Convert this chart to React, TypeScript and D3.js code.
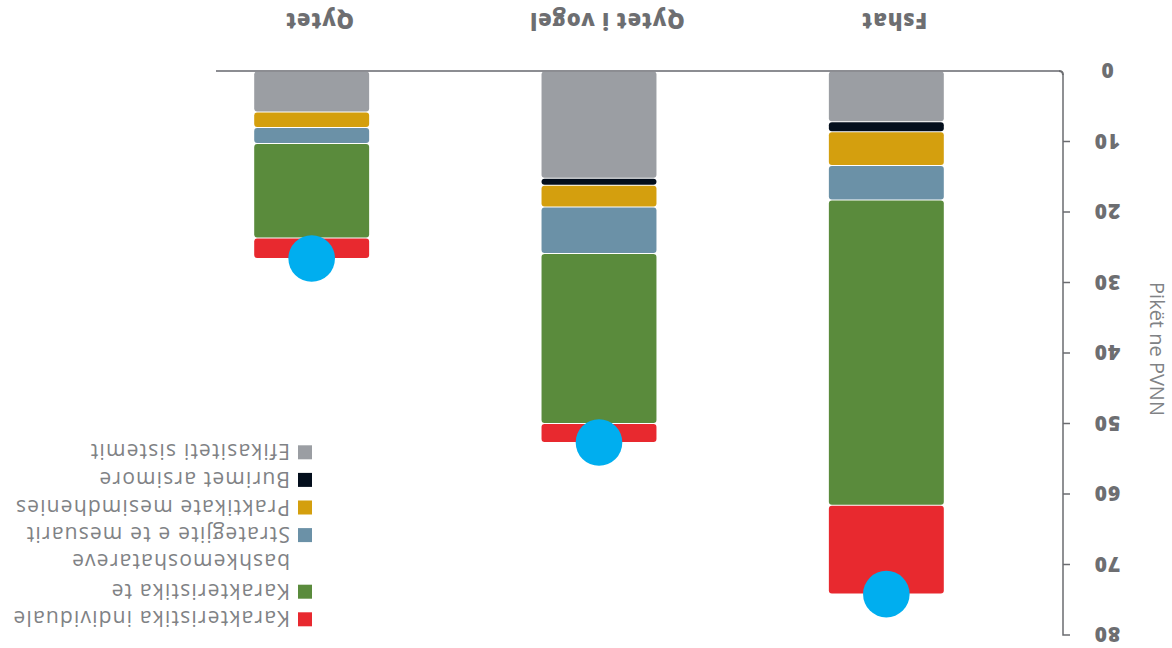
import React from 'react';
import * as d3 from 'd3';

// categories, left to right in the unrotated chart
const categories = ['Fshat', 'Qytet i vogel', 'Qytet'];

// stacked series, bottom to top
const seriesKeys = ['efikasiteti', 'burimet', 'praktikat', 'strategjite', 'bashkemoshataret', 'individuale'];
const seriesLabels = [
  ['Efikasiteti sistemit'],
  ['Burimet arsimore'],
  ['Praktikate mesimdhenies'],
  ['Strategjite e te mesuarit'],
  ['Karakteristika te', 'bashkemoshatareve'],
  ['Karakteristika individuale'],
];
const seriesColors = ['#9b9ea3', '#030e1c', '#d49f0e', '#6b91a7', '#5a8b3c', '#e8292f'];

const efikasiteti = [7.2, 15.2, 5.8];
const burimet = [1.4, 1.0, 0];
const praktikat = [4.8, 3.1, 2.2];
const strategjite = [4.9, 6.6, 2.3];
const bashkemoshataret = [43.3, 24.1, 13.4];
const individuale = [12.6, 2.7, 2.9];

const yTicks = [0, 10, 20, 30, 40, 50, 60, 70, 80];
const yTitle = 'Pikët ne PVNN';

const W = 1172;
const H = 648;

const App: React.FC = () => {
  const rows = categories.map((c, i) => ({
    cat: c,
    efikasiteti: efikasiteti[i],
    burimet: burimet[i],
    praktikat: praktikat[i],
    strategjite: strategjite[i],
    bashkemoshataret: bashkemoshataret[i],
    individuale: individuale[i],
  }));
  const stacked = d3.stack<any>().keys(seriesKeys)(rows);
  const totals = rows.map((r) => d3.sum(seriesKeys, (k) => r[k]));

  const y = d3.scaleLinear().domain([0, 80]).range([577, 13]);
  const x = d3.scaleBand().domain(categories).range([142, 1004]).paddingInner(0.6).paddingOuter(0.3);

  const axisX = 109;
  const baseEnd = 956;
  const axisColor = '#6b6c70';
  const textColor = '#6d6e71';
  const font = "'Open Sans', sans-serif";

  const axisPath =
    `M${axisX},${y(0) - 4} V${y(80)} H${axisX - 7}` +
    yTicks.filter((t) => t > 0 && t < 80).map((t) => ` M${axisX},${y(t)} H${axisX - 7}`).join('');

  // legend: red on top down to gray
  const legendOrder = d3.range(seriesKeys.length).reverse();

  return (
    <svg width={W} height={H} style={{ position: 'fixed', left: 0, top: 0, background: '#fff' }}>
      <g transform={`rotate(180 ${W / 2} ${H / 2})`}>
        {/* bars */}
        {stacked.map((s, si) => (
          <g key={s.key} fill={seriesColors[si]}>
            {s.map((d, ci) => {
              const h = y(d[0]) - y(d[1]);
              if (h <= 0) return null;
              return (
                <rect
                  key={ci}
                  x={x(categories[ci])!}
                  y={y(d[1]) + 0.5}
                  width={x.bandwidth()}
                  height={Math.max(h - 1, 0.5)}
                  rx={3}
                />
              );
            })}
          </g>
        ))}

        {/* baseline and axis */}
        <line x1={axisX + 4} x2={baseEnd} y1={y(0)} y2={y(0)} stroke="#8c8d92" strokeWidth={2} />
        <path d={`M${axisX + 4},${y(0)} Q${axisX},${y(0)} ${axisX},${y(0) - 4}`} fill="none" stroke={axisColor} strokeWidth={2} />
        <path d={axisPath} fill="none" stroke={axisColor} strokeWidth={1.5} />

        {/* total dots */}
        {categories.map((c, i) => (
          <circle key={c} cx={x(c)! + x.bandwidth() / 2} cy={y(totals[i])} r={23.3} fill="#00aeef" />
        ))}

        {/* tick labels */}
        {yTicks.map((t) => (
          <text
            key={t}
            x={65}
            y={y(t)}
            textAnchor="middle"
            dominantBaseline="central"
            fontFamily={font}
            fontWeight={800}
            fontSize={21}
            letterSpacing={1}
            fill={textColor}
          >
            {t}
          </text>
        ))}

        {/* category labels */}
        {categories.map((c) => (
          <text
            key={c}
            x={x(c)! + x.bandwidth() / 2 - 8}
            y={626}
            textAnchor="middle"
            dominantBaseline="central"
            fontFamily={font}
            fontWeight={800}
            fontSize={22}
            letterSpacing={0.8}
            fill={textColor}
          >
            {c}
          </text>
        ))}

        {/* y title */}
        <text
          transform={`translate(15,299) rotate(-90)`}
          textAnchor="middle"
          dominantBaseline="central"
          fontFamily={font}
          fontSize={20}
          fill="#808285"
        >
          {yTitle}
        </text>

        {/* legend */}
        {legendOrder.map((si, i) => {
          const cy = 28.7 + i * 27.6 + (i >= 2 ? 29 : 0);
          return (
            <g key={seriesKeys[si]}>
              <rect x={860} y={cy - 7} width={14} height={14} fill={seriesColors[si]} />
              {seriesLabels[si].map((line, li) => (
                <text
                  key={li}
                  x={882}
                  y={cy + li * 30}
                  dominantBaseline="central"
                  fontFamily={font}
                  fontSize={21}
                  letterSpacing={1.2}
                  fill="#808285"
                >
                  {line}
                </text>
              ))}
            </g>
          );
        })}
      </g>
    </svg>
  );
};

export default App;
